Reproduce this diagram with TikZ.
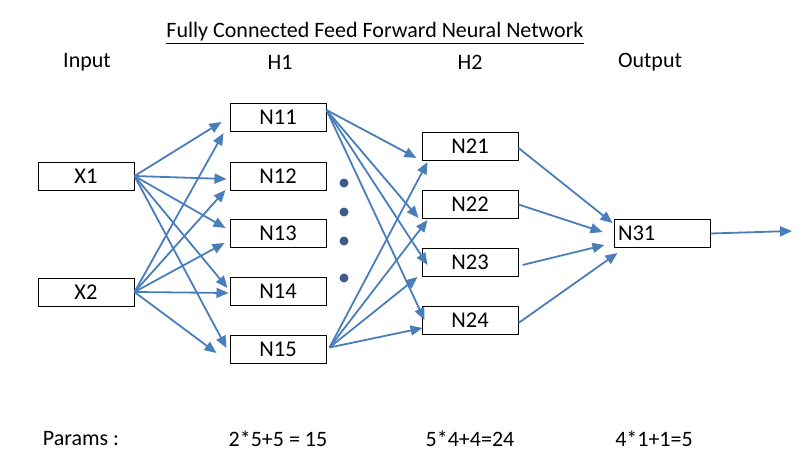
\documentclass[tikz,border=0pt]{standalone}
\usepackage{fontspec}
\setmainfont{Carlito}
\usetikzlibrary{arrows.meta}
\definecolor{wireblue}{RGB}{74,126,187}
\definecolor{dotblue}{RGB}{60,92,140}
\begin{document}
\begin{tikzpicture}[x=1pt, y=-1pt,
  font=\fontsize{22}{26}\selectfont,
  neuron/.style={shape=rectangle, draw=black, line width=1pt, minimum width=96pt, minimum height=28pt, inner sep=4pt, font=\fontsize{22.5}{26}\selectfont},
  wire/.style={draw=wireblue, line width=1.8pt, -{Triangle[length=12pt, width=10pt]}}]
%%%%%%%%%%%%%%%%%%%%%%%%%%%%%%%%%%%%%%%%%%% HELP LINES
%\draw[help lines] (0,0) grid +(801,469);
\useasboundingbox (0,0) rectangle (801,469);

%%%%%%%%%%%%%%%%%%%%%%%%%%%%%%%%%%%%%%%%%%% headings
\node[draw=none](title) at (375,33){\underline{Fully Connected Feed Forward Neural Network}};
\node[draw=none](input) at (87,62){Input};
\node[draw=none](h1) at (280,62){H1};
\node[draw=none](h2) at (470,62){H2};
\node[draw=none](output) at (650,62){Output};

%%%%%%%%%%%%%%%%%%%%%%%%%%%%%%%%%%%%%%%%%%% elements
\node[neuron](X1) at (86,176){X1};
\node[neuron](X2) at (86,292){X2};
\node[neuron](N11) at (278,117){N11};
\node[neuron](N12) at (278,176){N12};
\node[neuron](N13) at (278,233.5){N13};
\node[neuron](N14) at (278,291.5){N14};
\node[neuron](N15) at (278,349.5){N15};
\node[neuron](N21) at (470,146.5){N21};
\node[neuron](N22) at (470,204.5){N22};
\node[neuron](N23) at (470,262.5){N23};
\node[neuron](N24) at (470,320.5){N24};
\node[neuron, text width=88pt, align=left](N31) at (662,233.5){N31};
\coordinate (out) at (792,231);

%%%%% dots
\fill[dotblue] (344,183) circle (4.5pt);
\fill[dotblue] (344,212) circle (4.5pt);
\fill[dotblue] (344,241) circle (4.5pt);
\fill[dotblue] (344,278) circle (4.5pt);

%%%%% edges input -> H1
\draw[wire] (X1.east) -- ([xshift=-8pt,yshift=-5pt]N11.west);
\draw[wire] (X1.east) -- ([xshift=-3pt,yshift=-3pt]N12.west);
\draw[wire] (X1.east) -- ([xshift=-4pt,yshift=5.5pt]N13.west);
\draw[wire] (X1.east) -- ([xshift=-2pt,yshift=3.5pt]N14.west);
\draw[wire] (X1.east) -- ([xshift=-3pt,yshift=1.5pt]N15.west);
\draw[wire] (X2.east) -- ([xshift=-6pt,yshift=-16pt]N11.west);
\draw[wire] (X2.east) -- ([xshift=-4pt,yshift=-14pt]N12.west);
\draw[wire] (X2.east) -- ([xshift=-5pt,yshift=-9.5pt]N13.west);
\draw[wire] (X2.east) -- ([xshift=-1pt,yshift=-1.5pt]N14.west);
\draw[wire] (X2.east) -- ([xshift=-13pt,yshift=-3.5pt]N15.west);

%%%%% edges H1 -> H2
\draw[wire] ([yshift=7pt]N11.east) -- ([xshift=-5pt,yshift=-11.5pt]N21.west);
\draw[wire] ([yshift=7pt]N11.east) -- ([xshift=-3pt,yshift=-13.5pt]N22.west);
\draw[wire] ([yshift=7pt]N11.east) -- ([xshift=6pt,yshift=-2.5pt]N23.west);
\draw[wire] ([yshift=7pt]N11.east) -- ([xshift=3pt,yshift=0.5pt]N24.west);
\draw[wire] ([xshift=3pt,yshift=2pt]N15.east) -- ([xshift=6pt,yshift=-15.5pt]N21.west);
\draw[wire] ([xshift=3pt,yshift=2pt]N15.east) -- ([xshift=6pt,yshift=-15.5pt]N22.west);
\draw[wire] ([xshift=3pt,yshift=2pt]N15.east) -- ([xshift=-4pt,yshift=-14.5pt]N23.west);
\draw[wire] ([xshift=3pt,yshift=2pt]N15.east) -- ([xshift=1pt,yshift=-7.5pt]N24.west);

%%%%% edges H2 -> output
\draw[wire] ([yshift=-1.5pt]N21.east) -- ([xshift=-1pt,yshift=10.5pt]N31.west);
\draw[wire] (N22.east) -- ([xshift=-11pt,yshift=1.5pt]N31.west);
\draw[wire] ([xshift=4pt,yshift=-2.5pt]N23.east) -- ([xshift=-9pt,yshift=-11.5pt]N31.west);
\draw[wire] ([yshift=-2.5pt]N24.east) -- ([xshift=4pt,yshift=-19.5pt]N31.west);
\draw[wire] (N31.east) -- (out);

%%%%% params
\node[draw=none](params) at (81,439){Params :};
\node[draw=none](p1) at (278,439){2*5+5 = 15};
\node[draw=none](p2) at (470,439){5*4+4=24};
\node[draw=none](p3) at (654,439){4*1+1=5};
\end{tikzpicture}
\end{document}
